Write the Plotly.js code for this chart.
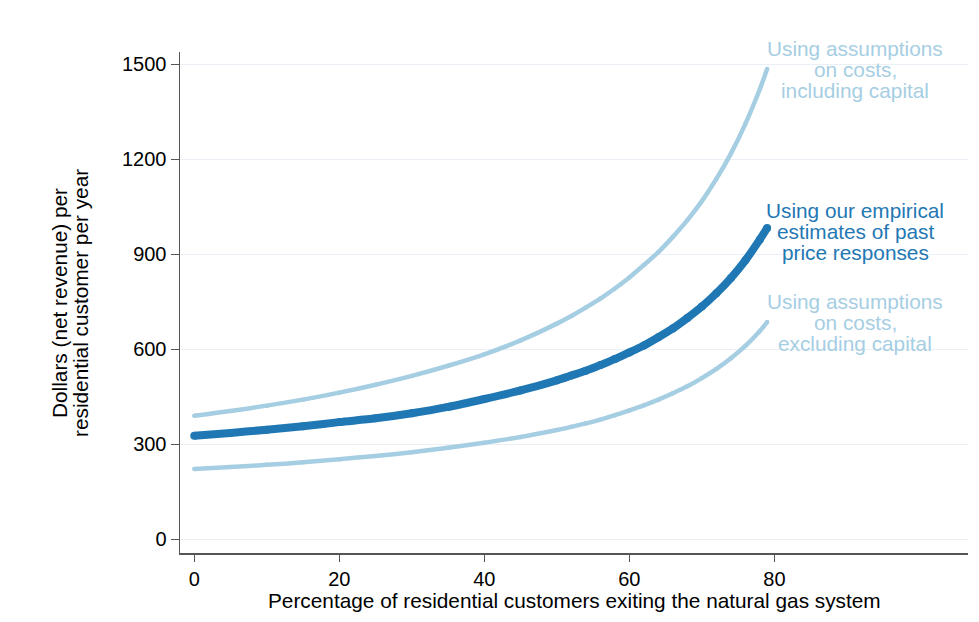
<!DOCTYPE html>
<html>
<head>
<meta charset="utf-8">
<script src="https://cdn.plot.ly/plotly-3.0.1.min.js"></script>
<style>html,body{margin:0;padding:0;background:#fff;}#chart{width:979px;height:622px;}</style>
</head>
<body>
<div id="chart"></div>
<script>
// Percentage of residential customers exiting
const xPct = [0, 5, 10, 15, 20, 25, 30, 35, 40, 45, 50, 52, 54, 56, 58, 60, 62, 64, 66, 68, 70, 72, 74, 76, 78, 79];
// Dollars (net revenue) per residential customer per year
const inclCapital = [390, 405, 422, 441, 463, 488, 516, 548, 584, 628, 681, 705, 732, 760, 792, 827, 866, 907, 955, 1008, 1068, 1138, 1218, 1312, 1422, 1485];
const empirical   = [327, 336, 346, 357, 370, 382, 398, 418, 443, 470, 502, 517, 532, 550, 569, 590, 612, 638, 666, 699, 735, 777, 825, 881, 947, 983];
const exclCapital = [222, 228, 235, 243, 253, 263, 275, 289, 305, 323, 345, 355, 366, 378, 392, 407, 423, 441, 461, 483, 509, 538, 572, 611, 658, 686];

const yTicks = [0, 300, 600, 900, 1200, 1500];
const xTicks = [0, 20, 40, 60, 80];

const labelIncl = ["Using assumptions", "on costs,", "including capital"];
const labelEmp  = ["Using our empirical", "estimates of past", "price responses"];
const labelExcl = ["Using assumptions", "on costs,", "excluding capital"];
const yTitleLines = ["Dollars (net revenue) per", "residential customer per year"];
const xTitle = "Percentage of residential customers exiting the natural gas system";

const LIGHT = "#a6cee3", DARK = "#1f78b4";
const FONT = "Liberation Sans, Arial, sans-serif";
const TXT = 20.8;

// plot area in pixels
const PL = 180, PR = 968, PT = 52, PB = 553;
const px2x = p => (p - PL) / (PR - PL);
const px2y = p => (PB - p) / (PB - PT);

function curve(y, color, w) {
  return {
    x: xPct, y: y, type: "scatter", mode: "lines+markers",
    line: {color: color, width: w, shape: "spline", smoothing: 0.8},
    marker: {color: color, size: w, line: {width: 0}},
    hoverinfo: "skip", showlegend: false
  };
}

const data = [
  curve(inclCapital, LIGHT, 4.5),
  curve(exclCapital, LIGHT, 4.5),
  curve(empirical, DARK, 8)
];

const annotations = [];
function addLines(lines, color, cx, ys) {
  lines.forEach((t, i) => annotations.push({
    text: t, xref: "paper", yref: "paper", x: px2x(cx), y: px2y(ys[i]),
    xanchor: "center", yanchor: "middle", showarrow: false,
    font: {family: FONT, size: TXT, color: color}
  }));
}
addLines(labelIncl, LIGHT, 855, [48, 69, 90]);
addLines(labelEmp, DARK, 855, [210, 231, 252]);
addLines(labelExcl, LIGHT, 855, [301, 322, 343]);

yTitleLines.forEach((t, i) => annotations.push({
  text: t, xref: "paper", yref: "paper", x: px2x([59, 80][i]), y: px2y(303),
  xanchor: "center", yanchor: "middle", textangle: -90, showarrow: false,
  font: {family: FONT, size: TXT, color: "#000"}
}));
annotations.push({
  text: xTitle, xref: "paper", yref: "paper", x: px2x(574.5), y: px2y(600),
  xanchor: "center", yanchor: "middle", showarrow: false,
  font: {family: FONT, size: TXT, color: "#000"}
});

const layout = {
  width: 979, height: 622,
  margin: {l: PL, r: 979 - PR, t: PT, b: 622 - PB, pad: 0},
  paper_bgcolor: "#fff", plot_bgcolor: "#fff",
  font: {family: FONT, size: 20, color: "#000"},
  showlegend: false,
  xaxis: {
    range: [-1.97, 106.7], tickvals: xTicks, ticktext: xTicks.map(String),
    showgrid: false, zeroline: false,
    showline: true, linecolor: "#555", linewidth: 1.5,
    ticks: "outside", ticklen: 7, tickwidth: 1.3, tickcolor: "#555",
    tickfont: {family: FONT, size: 20, color: "#000"}
  },
  yaxis: {
    range: [-43.3, 1538.8], tickvals: yTicks, ticktext: yTicks.map(String),
    showgrid: true, gridcolor: "#eaf0f5", gridwidth: 1.5, zeroline: false,
    showline: true, linecolor: "#555", linewidth: 1.5,
    ticks: "outside", ticklen: 8, tickwidth: 1.3, tickcolor: "#555",
    tickfont: {family: FONT, size: 20, color: "#000"}
  },
  annotations: annotations
};

Plotly.newPlot("chart", data, layout, {staticPlot: true, displayModeBar: false});
</script>
</body>
</html>
